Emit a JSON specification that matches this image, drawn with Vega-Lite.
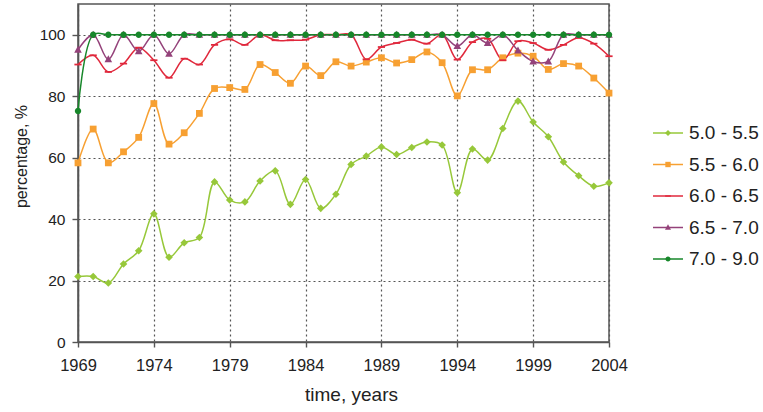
{
  "$schema": "https://vega.github.io/schema/vega-lite/v6.json",
  "autosize": "pad",
  "padding": {"left": 12, "top": 3, "right": 0, "bottom": 0},
  "background": "white",
  "bounds": "flush",
  "spacing": 44,
  "resolve": {"scale": {"x": "independent", "y": "independent"}, "axis": {"x": "independent", "y": "independent"}},
  "config": {
    "font": "Liberation Sans",
    "view": {"stroke": "#555555", "strokeWidth": 1.5},
    "axis": {
      "domainColor": "#555555",
      "domainWidth": 1.6,
      "tickColor": "#555555",
      "tickWidth": 1.4,
      "tickSize": 6,
      "labelColor": "#222222",
      "titleColor": "#222222",
      "titleFontWeight": "normal",
      "labelFlush": false,
      "gridColor": "#555555",
      "gridDash": [2, 3],
      "gridWidth": 1.2,
      "gridOpacity": 1
    }
  },
  "data": {
    "values": [
      {"year": 1969, "band": "5.0 - 5.5", "pct": 21.3}, {"year": 1970, "band": "5.0 - 5.5", "pct": 21.3},
      {"year": 1971, "band": "5.0 - 5.5", "pct": 19.2}, {"year": 1972, "band": "5.0 - 5.5", "pct": 25.4},
      {"year": 1973, "band": "5.0 - 5.5", "pct": 29.7}, {"year": 1974, "band": "5.0 - 5.5", "pct": 41.7},
      {"year": 1975, "band": "5.0 - 5.5", "pct": 27.6}, {"year": 1976, "band": "5.0 - 5.5", "pct": 32.3},
      {"year": 1977, "band": "5.0 - 5.5", "pct": 34.0}, {"year": 1978, "band": "5.0 - 5.5", "pct": 52.1},
      {"year": 1979, "band": "5.0 - 5.5", "pct": 46.2}, {"year": 1980, "band": "5.0 - 5.5", "pct": 45.6},
      {"year": 1981, "band": "5.0 - 5.5", "pct": 52.4}, {"year": 1982, "band": "5.0 - 5.5", "pct": 55.7},
      {"year": 1983, "band": "5.0 - 5.5", "pct": 44.8}, {"year": 1984, "band": "5.0 - 5.5", "pct": 52.9},
      {"year": 1985, "band": "5.0 - 5.5", "pct": 43.5}, {"year": 1986, "band": "5.0 - 5.5", "pct": 48.1},
      {"year": 1987, "band": "5.0 - 5.5", "pct": 57.8}, {"year": 1988, "band": "5.0 - 5.5", "pct": 60.5},
      {"year": 1989, "band": "5.0 - 5.5", "pct": 63.5}, {"year": 1990, "band": "5.0 - 5.5", "pct": 61.0},
      {"year": 1991, "band": "5.0 - 5.5", "pct": 63.3}, {"year": 1992, "band": "5.0 - 5.5", "pct": 65.1},
      {"year": 1993, "band": "5.0 - 5.5", "pct": 64.1}, {"year": 1994, "band": "5.0 - 5.5", "pct": 48.6},
      {"year": 1995, "band": "5.0 - 5.5", "pct": 62.8}, {"year": 1996, "band": "5.0 - 5.5", "pct": 59.2},
      {"year": 1997, "band": "5.0 - 5.5", "pct": 69.5}, {"year": 1998, "band": "5.0 - 5.5", "pct": 78.4},
      {"year": 1999, "band": "5.0 - 5.5", "pct": 71.6}, {"year": 2000, "band": "5.0 - 5.5", "pct": 66.8},
      {"year": 2001, "band": "5.0 - 5.5", "pct": 58.6}, {"year": 2002, "band": "5.0 - 5.5", "pct": 54.1},
      {"year": 2003, "band": "5.0 - 5.5", "pct": 50.7}, {"year": 2004, "band": "5.0 - 5.5", "pct": 51.8},

      {"year": 1969, "band": "5.5 - 6.0", "pct": 58.3}, {"year": 1970, "band": "5.5 - 6.0", "pct": 69.3},
      {"year": 1971, "band": "5.5 - 6.0", "pct": 58.3}, {"year": 1972, "band": "5.5 - 6.0", "pct": 61.9},
      {"year": 1973, "band": "5.5 - 6.0", "pct": 66.6}, {"year": 1974, "band": "5.5 - 6.0", "pct": 77.6},
      {"year": 1975, "band": "5.5 - 6.0", "pct": 64.4}, {"year": 1976, "band": "5.5 - 6.0", "pct": 68.1},
      {"year": 1977, "band": "5.5 - 6.0", "pct": 74.4}, {"year": 1978, "band": "5.5 - 6.0", "pct": 82.5},
      {"year": 1979, "band": "5.5 - 6.0", "pct": 82.8}, {"year": 1980, "band": "5.5 - 6.0", "pct": 82.2},
      {"year": 1981, "band": "5.5 - 6.0", "pct": 90.3}, {"year": 1982, "band": "5.5 - 6.0", "pct": 87.7},
      {"year": 1983, "band": "5.5 - 6.0", "pct": 84.2}, {"year": 1984, "band": "5.5 - 6.0", "pct": 89.8},
      {"year": 1985, "band": "5.5 - 6.0", "pct": 86.7}, {"year": 1986, "band": "5.5 - 6.0", "pct": 91.2},
      {"year": 1987, "band": "5.5 - 6.0", "pct": 89.8}, {"year": 1988, "band": "5.5 - 6.0", "pct": 91.1},
      {"year": 1989, "band": "5.5 - 6.0", "pct": 92.5}, {"year": 1990, "band": "5.5 - 6.0", "pct": 90.8},
      {"year": 1991, "band": "5.5 - 6.0", "pct": 91.9}, {"year": 1992, "band": "5.5 - 6.0", "pct": 94.4},
      {"year": 1993, "band": "5.5 - 6.0", "pct": 90.9}, {"year": 1994, "band": "5.5 - 6.0", "pct": 80.1},
      {"year": 1995, "band": "5.5 - 6.0", "pct": 88.6}, {"year": 1996, "band": "5.5 - 6.0", "pct": 88.6},
      {"year": 1997, "band": "5.5 - 6.0", "pct": 92.5}, {"year": 1998, "band": "5.5 - 6.0", "pct": 94.0},
      {"year": 1999, "band": "5.5 - 6.0", "pct": 93.0}, {"year": 2000, "band": "5.5 - 6.0", "pct": 88.7},
      {"year": 2001, "band": "5.5 - 6.0", "pct": 90.6}, {"year": 2002, "band": "5.5 - 6.0", "pct": 89.8},
      {"year": 2003, "band": "5.5 - 6.0", "pct": 85.9}, {"year": 2004, "band": "5.5 - 6.0", "pct": 81.0},

      {"year": 1969, "band": "6.0 - 6.5", "pct": 90.3}, {"year": 1970, "band": "6.0 - 6.5", "pct": 93.3},
      {"year": 1971, "band": "6.0 - 6.5", "pct": 87.9}, {"year": 1972, "band": "6.0 - 6.5", "pct": 90.6},
      {"year": 1973, "band": "6.0 - 6.5", "pct": 95.8}, {"year": 1974, "band": "6.0 - 6.5", "pct": 91.7},
      {"year": 1975, "band": "6.0 - 6.5", "pct": 86.0}, {"year": 1976, "band": "6.0 - 6.5", "pct": 92.2},
      {"year": 1977, "band": "6.0 - 6.5", "pct": 90.3}, {"year": 1978, "band": "6.0 - 6.5", "pct": 96.7},
      {"year": 1979, "band": "6.0 - 6.5", "pct": 98.5}, {"year": 1980, "band": "6.0 - 6.5", "pct": 96.7},
      {"year": 1981, "band": "6.0 - 6.5", "pct": 100}, {"year": 1982, "band": "6.0 - 6.5", "pct": 98.2},
      {"year": 1983, "band": "6.0 - 6.5", "pct": 98.2}, {"year": 1984, "band": "6.0 - 6.5", "pct": 98.4},
      {"year": 1985, "band": "6.0 - 6.5", "pct": 100}, {"year": 1986, "band": "6.0 - 6.5", "pct": 100},
      {"year": 1987, "band": "6.0 - 6.5", "pct": 100}, {"year": 1988, "band": "6.0 - 6.5", "pct": 92.0},
      {"year": 1989, "band": "6.0 - 6.5", "pct": 96.0}, {"year": 1990, "band": "6.0 - 6.5", "pct": 97.3},
      {"year": 1991, "band": "6.0 - 6.5", "pct": 98.4}, {"year": 1992, "band": "6.0 - 6.5", "pct": 97.1},
      {"year": 1993, "band": "6.0 - 6.5", "pct": 100}, {"year": 1994, "band": "6.0 - 6.5", "pct": 91.9},
      {"year": 1995, "band": "6.0 - 6.5", "pct": 97.6}, {"year": 1996, "band": "6.0 - 6.5", "pct": 98.7},
      {"year": 1997, "band": "6.0 - 6.5", "pct": 91.7}, {"year": 1998, "band": "6.0 - 6.5", "pct": 97.9},
      {"year": 1999, "band": "6.0 - 6.5", "pct": 97.3}, {"year": 2000, "band": "6.0 - 6.5", "pct": 95.1},
      {"year": 2001, "band": "6.0 - 6.5", "pct": 96.7}, {"year": 2002, "band": "6.0 - 6.5", "pct": 99.0},
      {"year": 2003, "band": "6.0 - 6.5", "pct": 97.1}, {"year": 2004, "band": "6.0 - 6.5", "pct": 93.0},

      {"year": 1969, "band": "6.5 - 7.0", "pct": 95.1}, {"year": 1970, "band": "6.5 - 7.0", "pct": 100},
      {"year": 1971, "band": "6.5 - 7.0", "pct": 92.0}, {"year": 1972, "band": "6.5 - 7.0", "pct": 100},
      {"year": 1973, "band": "6.5 - 7.0", "pct": 94.6}, {"year": 1974, "band": "6.5 - 7.0", "pct": 100},
      {"year": 1975, "band": "6.5 - 7.0", "pct": 93.8}, {"year": 1976, "band": "6.5 - 7.0", "pct": 100},
      {"year": 1977, "band": "6.5 - 7.0", "pct": 100}, {"year": 1978, "band": "6.5 - 7.0", "pct": 100},
      {"year": 1979, "band": "6.5 - 7.0", "pct": 100}, {"year": 1980, "band": "6.5 - 7.0", "pct": 100},
      {"year": 1981, "band": "6.5 - 7.0", "pct": 100}, {"year": 1982, "band": "6.5 - 7.0", "pct": 100},
      {"year": 1983, "band": "6.5 - 7.0", "pct": 100}, {"year": 1984, "band": "6.5 - 7.0", "pct": 100},
      {"year": 1985, "band": "6.5 - 7.0", "pct": 100}, {"year": 1986, "band": "6.5 - 7.0", "pct": 100},
      {"year": 1987, "band": "6.5 - 7.0", "pct": 100}, {"year": 1988, "band": "6.5 - 7.0", "pct": 100},
      {"year": 1989, "band": "6.5 - 7.0", "pct": 100}, {"year": 1990, "band": "6.5 - 7.0", "pct": 100},
      {"year": 1991, "band": "6.5 - 7.0", "pct": 100}, {"year": 1992, "band": "6.5 - 7.0", "pct": 100},
      {"year": 1993, "band": "6.5 - 7.0", "pct": 100}, {"year": 1994, "band": "6.5 - 7.0", "pct": 96.3},
      {"year": 1995, "band": "6.5 - 7.0", "pct": 100}, {"year": 1996, "band": "6.5 - 7.0", "pct": 97.3},
      {"year": 1997, "band": "6.5 - 7.0", "pct": 100}, {"year": 1998, "band": "6.5 - 7.0", "pct": 94.9},
      {"year": 1999, "band": "6.5 - 7.0", "pct": 91.3}, {"year": 2000, "band": "6.5 - 7.0", "pct": 91.3},
      {"year": 2001, "band": "6.5 - 7.0", "pct": 100}, {"year": 2002, "band": "6.5 - 7.0", "pct": 100},
      {"year": 2003, "band": "6.5 - 7.0", "pct": 100}, {"year": 2004, "band": "6.5 - 7.0", "pct": 100},

      {"year": 1969, "band": "7.0 - 9.0", "pct": 75.2}, {"year": 1970, "band": "7.0 - 9.0", "pct": 100},
      {"year": 1971, "band": "7.0 - 9.0", "pct": 100}, {"year": 1972, "band": "7.0 - 9.0", "pct": 100},
      {"year": 1973, "band": "7.0 - 9.0", "pct": 100}, {"year": 1974, "band": "7.0 - 9.0", "pct": 100},
      {"year": 1975, "band": "7.0 - 9.0", "pct": 100}, {"year": 1976, "band": "7.0 - 9.0", "pct": 100},
      {"year": 1977, "band": "7.0 - 9.0", "pct": 100}, {"year": 1978, "band": "7.0 - 9.0", "pct": 100},
      {"year": 1979, "band": "7.0 - 9.0", "pct": 100}, {"year": 1980, "band": "7.0 - 9.0", "pct": 100},
      {"year": 1981, "band": "7.0 - 9.0", "pct": 100}, {"year": 1982, "band": "7.0 - 9.0", "pct": 100},
      {"year": 1983, "band": "7.0 - 9.0", "pct": 100}, {"year": 1984, "band": "7.0 - 9.0", "pct": 100},
      {"year": 1985, "band": "7.0 - 9.0", "pct": 100}, {"year": 1986, "band": "7.0 - 9.0", "pct": 100},
      {"year": 1987, "band": "7.0 - 9.0", "pct": 100}, {"year": 1988, "band": "7.0 - 9.0", "pct": 100},
      {"year": 1989, "band": "7.0 - 9.0", "pct": 100}, {"year": 1990, "band": "7.0 - 9.0", "pct": 100},
      {"year": 1991, "band": "7.0 - 9.0", "pct": 100}, {"year": 1992, "band": "7.0 - 9.0", "pct": 100},
      {"year": 1993, "band": "7.0 - 9.0", "pct": 100}, {"year": 1994, "band": "7.0 - 9.0", "pct": 100},
      {"year": 1995, "band": "7.0 - 9.0", "pct": 100}, {"year": 1996, "band": "7.0 - 9.0", "pct": 100},
      {"year": 1997, "band": "7.0 - 9.0", "pct": 100}, {"year": 1998, "band": "7.0 - 9.0", "pct": 100},
      {"year": 1999, "band": "7.0 - 9.0", "pct": 100}, {"year": 2000, "band": "7.0 - 9.0", "pct": 100},
      {"year": 2001, "band": "7.0 - 9.0", "pct": 100}, {"year": 2002, "band": "7.0 - 9.0", "pct": 100},
      {"year": 2003, "band": "7.0 - 9.0", "pct": 100}, {"year": 2004, "band": "7.0 - 9.0", "pct": 100}
    ]
  },
  "hconcat": [
    {
      "width": 531,
      "height": 338,
      "encoding": {
        "x": {
          "field": "year",
          "type": "quantitative",
          "scale": {"domain": [1969, 2004], "nice": false, "zero": false},
          "axis": {
            "values": [1969, 1974, 1979, 1984, 1989, 1994, 1999, 2004],
            "format": "d",
            "title": "time, years",
            "labelFontSize": 16.5,
            "labelPadding": 10,
            "tickSize": 5,
            "titleFontSize": 19,
            "titlePadding": 12,
            "titleX": 273,
            "grid": true
          }
        },
        "y": {
          "field": "pct",
          "type": "quantitative",
          "scale": {"domain": [0, 110], "nice": false},
          "axis": {
            "values": [0, 20, 40, 60, 80, 100],
            "title": "percentage, %",
            "labelFontSize": 15.5,
            "labelPadding": 7,
            "titleFontSize": 16,
            "titleX": -49,
            "titleY": 152,
            "titleBaseline": "bottom",
            "grid": true
          }
        },
        "color": {
          "field": "band",
          "type": "nominal",
          "scale": {
            "domain": ["5.0 - 5.5", "5.5 - 6.0", "6.0 - 6.5", "6.5 - 7.0", "7.0 - 9.0"],
            "range": ["#97C83A", "#F7A032", "#E0283C", "#94427A", "#17872A"]
          },
          "legend": null
        }
      },
      "layer": [
        {
          "mark": {"type": "line", "interpolate": "catmull-rom", "strokeWidth": 1.5},
          "encoding": {}
        },
        {
          "mark": {"type": "point", "filled": true, "size": 64, "opacity": 1},
          "encoding": {
            "shape": {
              "field": "band",
              "type": "nominal",
              "scale": {
                "domain": ["5.0 - 5.5", "5.5 - 6.0", "6.0 - 6.5", "6.5 - 7.0", "7.0 - 9.0"],
                "range": [
                  "M0,-0.95L0.95,0L0,0.95L-0.95,0Z",
                  "M-0.85,-0.85H0.85V0.85H-0.85Z",
                  "M-0.9,-0.22H0.9V0.22H-0.9Z",
                  "M0,-1L0.95,0.75H-0.95Z",
                  "M-0.8,0A0.8,0.8 0 1,0 0.8,0A0.8,0.8 0 1,0 -0.8,0Z"
                ]
              },
              "legend": null
            }
          }
        }
      ]
    },
    {
      "width": 110,
      "height": 338,
      "view": {"stroke": null},
      "transform": [{"filter": {"field": "year", "equal": 1969}}],
      "encoding": {
        "y": {
          "field": "band",
          "type": "ordinal",
          "scale": {"type": "point", "range": [129, 255], "padding": 0},
          "axis": null
        },
        "color": {
          "field": "band",
          "type": "nominal",
          "scale": {
            "domain": ["5.0 - 5.5", "5.5 - 6.0", "6.0 - 6.5", "6.5 - 7.0", "7.0 - 9.0"],
            "range": ["#97C83A", "#F7A032", "#E0283C", "#94427A", "#17872A"]
          },
          "legend": null
        }
      },
      "layer": [
        {
          "mark": {"type": "rule", "strokeWidth": 1.5},
          "encoding": {
            "x": {"datum": 0, "type": "quantitative", "scale": {"domain": [0, 1], "range": [0, 30]}, "axis": null},
            "x2": {"datum": 1}
          }
        },
        {
          "mark": {"type": "point", "filled": true, "size": 40, "opacity": 1},
          "encoding": {
            "x": {"datum": 0.5, "type": "quantitative"},
            "shape": {
              "field": "band",
              "type": "nominal",
              "scale": {
                "domain": ["5.0 - 5.5", "5.5 - 6.0", "6.0 - 6.5", "6.5 - 7.0", "7.0 - 9.0"],
                "range": [
                  "M0,-0.95L0.95,0L0,0.95L-0.95,0Z",
                  "M-0.85,-0.85H0.85V0.85H-0.85Z",
                  "M-0.9,-0.22H0.9V0.22H-0.9Z",
                  "M0,-1L0.95,0.75H-0.95Z",
                  "M-0.8,0A0.8,0.8 0 1,0 0.8,0A0.8,0.8 0 1,0 -0.8,0Z"
                ]
              },
              "legend": null
            }
          }
        },
        {
          "mark": {"type": "text", "align": "left", "baseline": "middle", "dx": 6, "fontSize": 19},
          "encoding": {
            "x": {"datum": 1, "type": "quantitative"},
            "text": {"field": "band"},
            "color": {"value": "#222222"}
          }
        }
      ]
    }
  ]
}
